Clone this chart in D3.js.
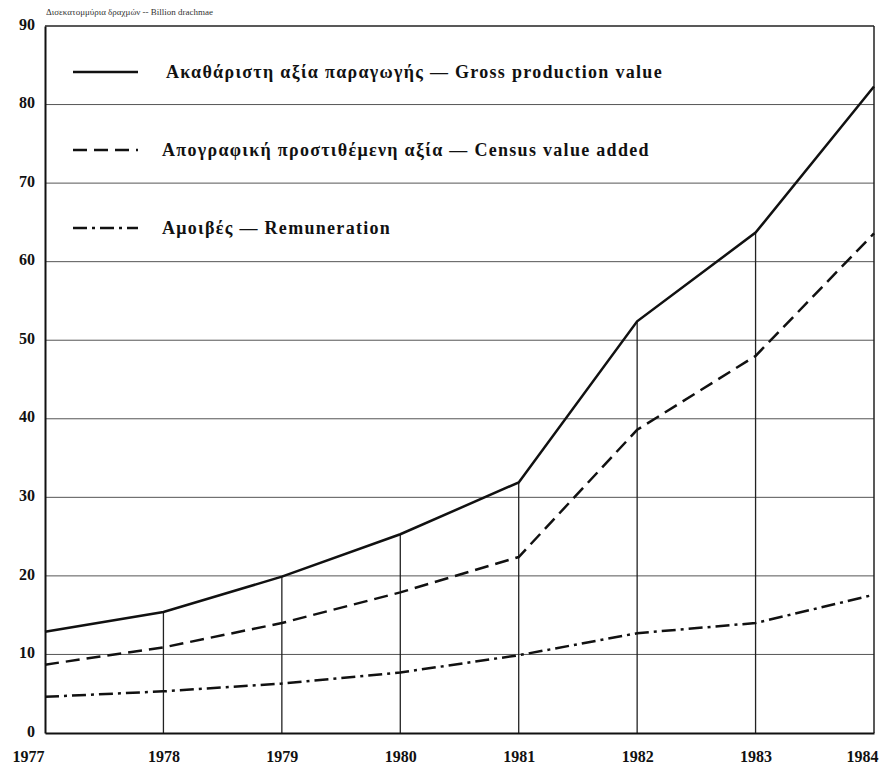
<!DOCTYPE html>
<html>
<head>
<meta charset="utf-8">
<script src="https://cdn.jsdelivr.net/npm/d3@7"></script>
<style>
  body { margin: 0; background: #fff; }
  text { font-family: "Liberation Serif", "DejaVu Serif", serif; }
</style>
</head>
<body>
<div id="chart"></div>
<script>
// values (billion drachmae)
var years = [1977, 1978, 1979, 1980, 1981, 1982, 1983, 1984];
var grossProduction = [12.9, 15.4, 19.9, 25.3, 31.9, 52.4, 63.7, 82.3];
var censusValueAdded = [8.7, 10.9, 14.0, 17.9, 22.4, 38.6, 48.0, 63.6];
var remuneration = [4.6, 5.3, 6.3, 7.7, 9.9, 12.7, 14.0, 17.6];
var yTicks = [0, 10, 20, 30, 40, 50, 60, 70, 80, 90];
var legendLabels = [
    "Ακαθάριστη αξία παραγωγής — Gross production value",
    "Απογραφική προστιθέμενη αξία — Census value added",
    "Αμοιβές — Remuneration"
];
var unitLabel = "Δισεκατομμύρια δραχμών -- Billion drachmae";

var width = 891, height = 778;
var margin = {top: 26, right: 17, bottom: 45, left: 45};

var svg = d3.select("#chart")
    .append("svg")
    .attr("width", width)
    .attr("height", height);

var x = d3.scaleLinear()
    .domain([years[0], years[years.length - 1]])
    .range([margin.left, width - margin.right]);

var y = d3.scaleLinear()
    .domain([0, 90])
    .range([height - margin.bottom, margin.top]);

var series = [
    {name: legendLabels[0], values: grossProduction, dash: null},
    {name: legendLabels[1], values: censusValueAdded, dash: "14,7"},
    {name: legendLabels[2], values: remuneration, dash: "14,5,3,5"}
];

// horizontal grid
svg.append("g")
    .selectAll("line")
    .data(yTicks.slice(1, -1))
    .enter()
    .append("line")
    .attr("x1", x(years[0]))
    .attr("x2", x(years[years.length - 1]))
    .attr("y1", function (d) { return y(d); })
    .attr("y2", function (d) { return y(d); })
    .attr("stroke", "#555")
    .attr("stroke-width", 1);

// drop lines from the gross production curve down to the axis
svg.append("g")
    .selectAll("line")
    .data(years.slice(1, -1))
    .enter()
    .append("line")
    .attr("x1", function (d) { return x(d); })
    .attr("x2", function (d) { return x(d); })
    .attr("y1", function (d, i) { return y(grossProduction[i + 1]); })
    .attr("y2", y(0))
    .attr("stroke", "#222")
    .attr("stroke-width", 1.3);

// frame
svg.append("line")
    .attr("x1", x(years[0])).attr("x2", x(years[years.length - 1]))
    .attr("y1", y(90)).attr("y2", y(90))
    .attr("stroke", "#222").attr("stroke-width", 1.5);
svg.append("line")
    .attr("x1", x(years[years.length - 1])).attr("x2", x(years[years.length - 1]))
    .attr("y1", y(90)).attr("y2", y(0))
    .attr("stroke", "#222").attr("stroke-width", 1.5);

var yAxis = d3.axisLeft(y).tickValues(yTicks).tickSize(0).tickPadding(10);
var yAxisGroup = svg.append("g")
    .attr("transform", "translate(" + x(years[0]) + ",0)")
    .call(yAxis);
yAxisGroup.select(".domain").attr("stroke", "#111").attr("stroke-width", 2);
yAxisGroup.selectAll("text")
    .attr("font-family", "Liberation Serif")
    .attr("font-weight", "bold")
    .attr("font-size", "16px")
    .attr("fill", "#111")
    .attr("dy", "0.2em");

var xAxis = d3.axisBottom(x).tickValues(years).tickFormat(d3.format("d")).tickSize(0).tickPadding(18);
var xAxisGroup = svg.append("g")
    .attr("transform", "translate(0," + y(0) + ")")
    .call(xAxis);
xAxisGroup.select(".domain").attr("stroke", "#111").attr("stroke-width", 2);
xAxisGroup.selectAll("text")
    .attr("font-family", "Liberation Serif")
    .attr("font-weight", "bold")
    .attr("font-size", "16px")
    .attr("fill", "#111")
    .attr("dx", function (d, i) {
        if (i === 0) return "-17";
        if (i === years.length - 1) return "-12";
        return "0";
    });

// data lines
var line = d3.line()
    .x(function (d, i) { return x(years[i]); })
    .y(function (d) { return y(d); });

svg.append("g")
    .selectAll("path")
    .data(series)
    .enter()
    .append("path")
    .attr("d", function (d) { return line(d.values); })
    .attr("fill", "none")
    .attr("stroke", "#111")
    .attr("stroke-width", 2.5)
    .attr("stroke-dasharray", function (d) { return d.dash; });

// legend inside the plot
var legend = svg.append("g")
    .selectAll("g")
    .data(series)
    .enter()
    .append("g")
    .attr("transform", function (d, i) { return "translate(73," + (72 + i * 78) + ")"; });

legend.append("line")
    .attr("x1", 0)
    .attr("x2", 65)
    .attr("stroke", "#111")
    .attr("stroke-width", 2.5)
    .attr("stroke-dasharray", function (d) { return d.dash; });

legend.append("text")
    .attr("x", function (d, i) { return i === 0 ? 93 : 89; })
    .attr("dy", "0.35em")
    .attr("font-weight", "bold")
    .attr("font-size", "18px")
    .attr("letter-spacing", "1.3px")
    .attr("fill", "#111")
    .text(function (d) { return d.name; });

svg.append("text")
    .attr("x", 46)
    .attr("y", 15)
    .attr("font-family", "DejaVu Sans")
    .attr("font-size", "9px")
    .attr("fill", "#333")
    .text(unitLabel);
</script>
</body>
</html>
